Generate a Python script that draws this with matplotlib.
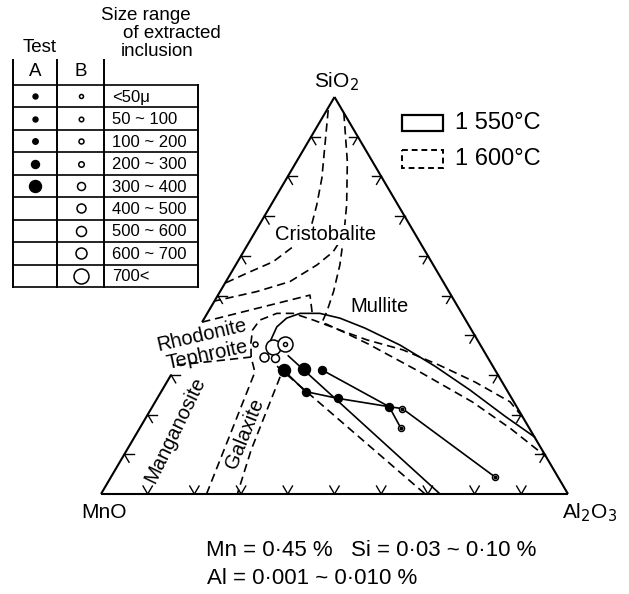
import numpy as np
import matplotlib
matplotlib.use("Agg")
import matplotlib.pyplot as plt
from matplotlib.patches import Rectangle

plt.rcParams['font.family'] = ['Liberation Sans', 'DejaVu Sans']

# ---------------- data: compositions as (SiO2 %, Al2O3 %) ----------------
# 1550 C boundaries (solid)
mullite_1550_si = [38.5, 42.1, 44.3, 45.5, 45.5, 44.3, 41.8, 37.5, 32.2, 26.2, 19.6, 14.4]
mullite_1550_al = [17.0, 16.6, 17.6, 19.9, 24.1, 29.0, 35.6, 45.3, 55.4, 65.9, 76.7, 85.6]
corundum_1550_si = [34.8, 0.0]
corundum_1550_al = [22.7, 72.6]

# 1600 C boundaries (dashed)
outer_1600_si = [0.0, 30.7, 34.5, 38.0, 41.3, 43.8, 45.5, 45.5, 43.8, 41.3, 38.8, 36.3, 32.5, 28.2, 23.2, 19.2]
outer_1600_al = [22.6, 17.6, 14.9, 13.1, 11.8, 12.1, 14.9, 18.4, 23.6, 30.5, 37.6, 46.5, 56.1, 66.0, 76.0, 80.8]
inner_1600_si = [65.2, 57.7, 51.0, 45.9, 43.3, 40.6, 37.8, 31.0, 23.2, 16.4, 9.4]
inner_1600_al = [19.4, 22.3, 24.3, 25.4, 25.7, 32.0, 38.3, 52.4, 67.9, 79.6, 90.6]
crist_a_si = [96.7, 87.9, 79.6, 72.8, 67.8, 63.6, 58.5, 55.6, 53.1]
crist_a_al = [0.3, 4.0, 7.5, 9.8, 11.2, 10.8, 7.6, 3.4, 0.0]
crist_b_si = [96.0, 83.7, 72.8, 65.2, 61.0, 57.7, 53.5, 51.0, 48.6]
crist_b_al = [4.0, 10.9, 16.2, 19.4, 19.2, 17.4, 13.7, 7.9, 0.0]
rhodonite_si = [43.3, 50.1, 45.8]
rhodonite_al = [0.0, 19.7, 22.3]
tephroite_si = [32.5, 33.5, 34.5]
tephroite_al = [0.0, 7.7, 14.9]
galaxite_si = [29.5, 11.1, 0.0]
galaxite_al = [23.6, 26.6, 29.2]
corundum_1600_si = [32.2, 0.0]
corundum_1600_al = [21.6, 69.4]

# inclusions; size class index into size_ranges
size_ranges = ['<50\u03bc', '50 ~ 100', '100 ~ 200', '200 ~ 300', '300 ~ 400',
               '400 ~ 500', '500 ~ 600', '600 ~ 700', '700<']
testA_si = [31.2, 31.5, 31.2, 25.8, 24.1, 22.0]
testA_al = [23.5, 27.8, 31.8, 30.9, 38.6, 50.7]
testA_cls = [4, 4, 3, 3, 3, 3]
testB_si = [37.9, 37.1, 37.8, 37.8, 34.6, 34.2]
testB_al = [14.0, 18.2, 20.5, 20.5, 17.5, 20.1]
testB_cls = [2, 8, 8, 0, 5, 4]
both_si = [21.5, 16.5, 4.3]
both_al = [53.8, 56.0, 82.2]
# trajectories (lists of (SiO2, Al2O3))
paths = [
    [(31.2, 23.5), (25.8, 30.9), (24.1, 38.6), (22.0, 50.7), (21.5, 53.8)],
    [(31.2, 31.8), (22.0, 50.7)],
    [(22.0, 50.7), (16.5, 56.0)],
    [(21.5, 53.8), (4.3, 82.2)],
]

# ---------------- styling ----------------
A_DIAM = [5, 5, 5.5, 8, 12]                      # px
B_DIAM = [4, 4.5, 5, 5.5, 8, 9, 10, 11, 15]      # px
PX2PT = 72 / 100.0
DASH = (0, (5, 3))
LW = 1.2


def tern(si, al):
    si = np.asarray(si, float) / 100.0
    al = np.asarray(al, float) / 100.0
    return al + si / 2.0, si


fig = plt.figure(figsize=(6.29, 5.94), dpi=100)
ax = fig.add_axes([0, 0, 1, 1])
ax.set_xlim(-101 / 467, 528 / 467)
ax.set_ylim(-100 / 397, 494 / 397)
ax.axis('off')

# triangle edges (left edge interrupted by the labels)
for s, a in [([0, 0], [0, 100]), ([0, 100], [100, 0]), ([0, 30], [0, 0]), ([43.3, 100], [0, 0])]:
    x, y = tern(s, a)
    ax.plot(x, y, color='k', lw=1.5, solid_capstyle='butt')

# grid tick stubs
t = 0.02
for k in range(1, 10):
    f = k / 10
    # base
    x0, y0 = f, 0
    ax.plot([x0, x0 + t / 2], [y0, y0 + t], color='k', lw=1.0)
    ax.plot([x0, x0 - t / 2], [y0, y0 + t], color='k', lw=1.0)
    # left edge
    if k != 4:
        x0, y0 = f / 2, f
        ax.plot([x0, x0 + t], [y0, y0], color='k', lw=1.0)
        ax.plot([x0, x0 + t / 2], [y0, y0 - t], color='k', lw=1.0)
    # right edge
    x0, y0 = 1 - f / 2, f
    ax.plot([x0, x0 - t], [y0, y0], color='k', lw=1.0)
    ax.plot([x0, x0 - t / 2], [y0, y0 - t], color='k', lw=1.0)

# 1550 solid boundaries
for s, a in [(mullite_1550_si, mullite_1550_al), (corundum_1550_si, corundum_1550_al)]:
    x, y = tern(s, a)
    ax.plot(x, y, color='k', lw=LW)

# 1600 dashed boundaries
for s, a in [(outer_1600_si, outer_1600_al), (inner_1600_si, inner_1600_al),
             (crist_a_si, crist_a_al), (crist_b_si, crist_b_al),
             (rhodonite_si, rhodonite_al), (tephroite_si, tephroite_al),
             (galaxite_si, galaxite_al), (corundum_1600_si, corundum_1600_al)]:
    x, y = tern(s, a)
    ax.plot(x, y, color='k', lw=LW, ls=DASH)

# trajectories
for p in paths:
    s, a = zip(*p)
    x, y = tern(s, a)
    ax.plot(x, y, color='k', lw=LW, zorder=3)

# Test A (filled)
x, y = tern(testA_si, testA_al)
for xi, yi, c in zip(x, y, testA_cls):
    ax.plot(xi, yi, 'o', ms=A_DIAM[c] * PX2PT, mfc='k', mec='k', zorder=5)
# Test B (open)
x, y = tern(testB_si, testB_al)
order = np.argsort([-B_DIAM[c] for c in testB_cls])
for i in order:
    c = testB_cls[i]
    ax.plot(x[i], y[i], 'o', ms=B_DIAM[c] * PX2PT, mfc='white', mec='k', mew=1.1, zorder=5)
# points with both
x, y = tern(both_si, both_al)
ax.plot(x, y, 'o', ms=6 * PX2PT, mfc='white', mec='k', mew=1.1, zorder=5)
ax.plot(x, y, 'o', ms=2.5 * PX2PT, mfc='k', mec='k', zorder=6)

# ---------------- pixel overlay for text & legend ----------------
axp = fig.add_axes([0, 0, 1, 1])
axp.set_xlim(0, 629)
axp.set_ylim(594, 0)
axp.axis('off')
axp.patch.set_alpha(0)

lab = dict(fontsize=14.5, color='k', ha='center', va='center')
axp.text(326, 235, 'Cristobalite', bbox=dict(fc='white', ec='none', pad=0.5), **lab)
axp.text(380, 307, 'Mullite', **lab)
axp.text(202, 335, 'Rhodonite', rotation=13, **lab)
axp.text(207, 355, 'Tephroite', rotation=12, **lab)
axp.text(175, 430, 'Manganosite', rotation=64, **lab)
axp.text(245, 434, 'Galaxite', rotation=68, **lab)

axp.text(336, 82, 'SiO$_2$', fontsize=15, ha='center', va='center')
axp.text(104, 513, 'MnO', fontsize=15, ha='center', va='center')
axp.text(590, 513, 'Al$_2$O$_3$', fontsize=15, ha='center', va='center')

# temperature legend
axp.add_patch(Rectangle((402, 115), 41, 16, fill=False, ec='k', lw=1.6))
axp.add_patch(Rectangle((402, 150), 41, 18, fill=False, ec='k', lw=1.4, ls=(0, (3, 2))))
axp.text(455, 123, '1 550\u00b0C', fontsize=17, ha='left', va='center')
axp.text(455, 159, '1 600\u00b0C', fontsize=17, ha='left', va='center')

# conditions
axp.text(206, 551, 'Mn = 0\u00b745 %   Si = 0\u00b703 ~ 0\u00b710 %', fontsize=16, ha='left', va='center')
axp.text(207, 578, 'Al = 0\u00b7001 ~ 0\u00b7010 %', fontsize=16, ha='left', va='center')

# size table
x_l, x_ab, x_bc, x_r = 12.7, 57.3, 104.0, 198.0
y_top, y_bot = 85.0, 287.0
row_h = (y_bot - y_top) / len(size_ranges)
for xv in (x_l, x_ab, x_bc):
    axp.plot([xv, xv], [60, y_bot], color='k', lw=1.4)
axp.plot([x_r, x_r], [y_top, y_bot], color='k', lw=1.4)
for i in range(len(size_ranges) + 1):
    axp.plot([x_l, x_r], [y_top + i * row_h] * 2, color='k', lw=1.2)
axp.text(146, 16, 'Size range', fontsize=13.5, ha='center', va='center')
axp.text(172, 33, 'of extracted', fontsize=13.5, ha='center', va='center')
axp.text(157, 52, 'inclusion', fontsize=13.5, ha='center', va='center')
axp.text(40, 47, 'Test', fontsize=13.5, ha='center', va='center')
axp.text(35, 72, 'A', fontsize=13.5, ha='center', va='center')
axp.text(81, 72, 'B', fontsize=13.5, ha='center', va='center')
for i, lbl in enumerate(size_ranges):
    yc = y_top + (i + 0.5) * row_h
    axp.text(112, yc + 1, lbl, fontsize=12, ha='left', va='center')
    if i < len(A_DIAM):
        axp.plot(35, yc, 'o', ms=A_DIAM[i] * PX2PT, mfc='k', mec='k')
    axp.plot(81, yc, 'o', ms=B_DIAM[i] * PX2PT, mfc='white', mec='k', mew=1.1)

fig.savefig('out.png', dpi=100)
